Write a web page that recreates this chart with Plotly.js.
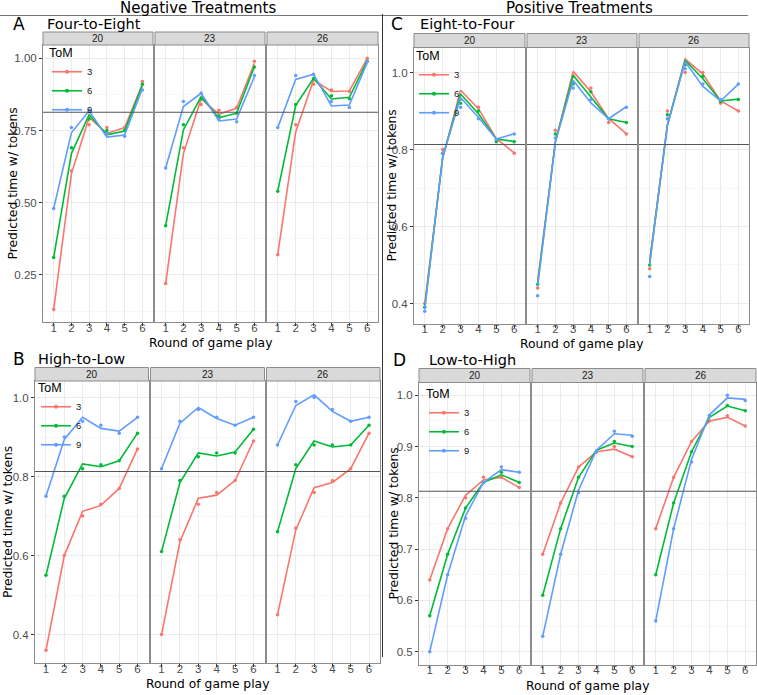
<!DOCTYPE html>
<html>
<head>
<meta charset="utf-8">
<script src="https://cdn.plot.ly/plotly-3.0.1.min.js"></script>
<style>
  html, body { margin: 0; padding: 0; background: #fff; }
  #chart { width: 757px; height: 695px; }
</style>
</head>
<body>
<div id="chart"></div>
<script>
// Shared categories
const rounds = [1, 2, 3, 4, 5, 6];
const facets = ['20', '23', '26'];
const tomLevels = ['3', '6', '9'];
const tomColors = ['#F8766D', '#00BA38', '#619CFF'];
const benchmark = 0.813;

// A: Four-to-Eight (rows = ToM 3, 6, 9)
const a20Obs = [[0.13, 0.61, 0.77, 0.76, 0.76, 0.92], [0.31, 0.69, 0.79, 0.75, 0.75, 0.91], [0.48, 0.76, 0.82, 0.74, 0.73, 0.89]];
const a20Fit = [[0.13, 0.60, 0.795, 0.74, 0.76, 0.91], [0.31, 0.67, 0.805, 0.735, 0.748, 0.908], [0.48, 0.742, 0.818, 0.727, 0.734, 0.895]];
const a23Obs = [[0.22, 0.69, 0.84, 0.82, 0.83, 0.99], [0.42, 0.77, 0.86, 0.80, 0.81, 0.97], [0.62, 0.85, 0.88, 0.79, 0.78, 0.94]];
const a23Fit = [[0.22, 0.67, 0.86, 0.807, 0.827, 0.983], [0.42, 0.752, 0.867, 0.794, 0.81, 0.971], [0.62, 0.833, 0.879, 0.783, 0.79, 0.936]];
const a26Obs = [[0.32, 0.77, 0.91, 0.89, 0.885, 1.00], [0.54, 0.84, 0.93, 0.87, 0.86, 0.99], [0.76, 0.94, 0.945, 0.85, 0.83, 0.99]];
const a26Fit = [[0.32, 0.744, 0.925, 0.885, 0.887, 1.0], [0.54, 0.836, 0.931, 0.859, 0.865, 0.991], [0.76, 0.927, 0.945, 0.835, 0.838, 0.986]];

// B: High-to-Low
const b20Obs = [[0.36, 0.60, 0.70, 0.73, 0.77, 0.87], [0.55, 0.75, 0.82, 0.83, 0.84, 0.91], [0.75, 0.90, 0.94, 0.93, 0.91, 0.95]];
const b20Fit = [[0.36, 0.60, 0.712, 0.727, 0.77, 0.87], [0.55, 0.745, 0.832, 0.825, 0.84, 0.91], [0.75, 0.894, 0.95, 0.922, 0.915, 0.95]];
const b23Obs = [[0.40, 0.64, 0.73, 0.76, 0.79, 0.89], [0.61, 0.79, 0.85, 0.86, 0.86, 0.92], [0.82, 0.94, 0.97, 0.95, 0.93, 0.95]];
const b23Fit = [[0.40, 0.635, 0.745, 0.753, 0.79, 0.89], [0.61, 0.785, 0.86, 0.852, 0.862, 0.92], [0.82, 0.935, 0.975, 0.947, 0.93, 0.95]];
const b26Obs = [[0.45, 0.67, 0.76, 0.79, 0.82, 0.91], [0.66, 0.83, 0.88, 0.88, 0.88, 0.93], [0.88, 0.99, 1.00, 0.97, 0.94, 0.95]];
const b26Fit = [[0.45, 0.665, 0.772, 0.785, 0.82, 0.91], [0.66, 0.82, 0.89, 0.875, 0.88, 0.93], [0.88, 0.98, 1.007, 0.965, 0.94, 0.95]];

// C: Eight-to-Four
const c20Obs = [[0.40, 0.80, 0.93, 0.91, 0.825, 0.79], [0.39, 0.79, 0.92, 0.90, 0.82, 0.82], [0.38, 0.79, 0.91, 0.88, 0.826, 0.84]];
const c20Fit = [[0.40, 0.776, 0.954, 0.906, 0.828, 0.791], [0.39, 0.78, 0.944, 0.893, 0.827, 0.821], [0.385, 0.78, 0.935, 0.883, 0.827, 0.841]];
const c23Obs = [[0.44, 0.85, 0.99, 0.96, 0.87, 0.84], [0.45, 0.84, 0.97, 0.95, 0.88, 0.87], [0.42, 0.83, 0.96, 0.93, 0.88, 0.91]];
const c23Fit = [[0.456, 0.82, 1.003, 0.95, 0.88, 0.841], [0.452, 0.82, 0.993, 0.938, 0.88, 0.87], [0.445, 0.82, 0.98, 0.921, 0.88, 0.911]];
const c26Obs = [[0.49, 0.90, 1.00, 1.00, 0.92, 0.90], [0.50, 0.89, 1.02, 0.99, 0.925, 0.93], [0.47, 0.88, 1.01, 0.97, 0.93, 0.97]];
const c26Fit = [[0.51, 0.863, 1.035, 0.996, 0.926, 0.90], [0.505, 0.863, 1.032, 0.984, 0.926, 0.931], [0.50, 0.863, 1.028, 0.964, 0.926, 0.97]];

// D: Low-to-High
const d20Obs = [[0.64, 0.74, 0.80, 0.84, 0.84, 0.82], [0.57, 0.69, 0.78, 0.83, 0.85, 0.83], [0.50, 0.65, 0.76, 0.83, 0.86, 0.85]];
const d20Fit = [[0.64, 0.74, 0.805, 0.835, 0.84, 0.82], [0.57, 0.69, 0.78, 0.83, 0.845, 0.83], [0.50, 0.65, 0.765, 0.83, 0.855, 0.85]];
const d23Obs = [[0.69, 0.79, 0.86, 0.89, 0.90, 0.88], [0.61, 0.74, 0.84, 0.89, 0.91, 0.90], [0.53, 0.69, 0.81, 0.89, 0.93, 0.92]];
const d23Fit = [[0.69, 0.79, 0.86, 0.89, 0.895, 0.88], [0.61, 0.74, 0.84, 0.893, 0.907, 0.90], [0.53, 0.69, 0.815, 0.893, 0.925, 0.922]];
const d26Obs = [[0.74, 0.84, 0.91, 0.95, 0.96, 0.94], [0.65, 0.79, 0.89, 0.96, 0.98, 0.97], [0.56, 0.74, 0.87, 0.96, 1.00, 0.99]];
const d26Fit = [[0.74, 0.84, 0.91, 0.95, 0.957, 0.94], [0.65, 0.79, 0.89, 0.957, 0.979, 0.97], [0.56, 0.74, 0.875, 0.962, 0.995, 0.992]];

// page geometry in pixels -> paper fractions
const W = 757, H = 695;
const px = v => v / W;
const py = v => 1 - v / H;

const panels = [
  { tag: 'A', name: 'Four-to-Eight', obs: [a20Obs, a23Obs, a26Obs], fit: [a20Fit, a23Fit, a26Fit],
    fx: [[43, 153], [155, 265], [267, 378]], top: 45, bottom: 322, strip: 32,
    yr: [0.087, 1.046], dtick: 0.25, minor: 0.125, fmt: '.2f',
    tagX: 19, tagY: 24, nameX: 45, ytX: 12, xtY: 343, leg: [47, 41] },
  { tag: 'B', name: 'High-to-Low', obs: [b20Obs, b23Obs, b26Obs], fit: [b20Fit, b23Fit, b26Fit],
    fx: [[35, 148.5], [150.5, 264.5], [266.5, 380]], top: 381, bottom: 663, strip: 367.5,
    yr: [0.328, 1.042], dtick: 0.2, minor: 0.1, fmt: '.1f',
    tagX: 19, tagY: 359, nameX: 36, ytX: 8, xtY: 684, leg: [36, 376] },
  { tag: 'C', name: 'Eight-to-Four', obs: [c20Obs, c23Obs, c26Obs], fit: [c20Fit, c23Fit, c26Fit],
    fx: [[414, 525], [527, 637], [639, 749]], top: 47.5, bottom: 323.5, strip: 33.5,
    yr: [0.348, 1.065], dtick: 0.2, minor: 0.1, fmt: '.1f',
    tagX: 397, tagY: 24, nameX: 418, ytX: 391, xtY: 344, leg: [414, 44] },
  { tag: 'D', name: 'Low-to-High', obs: [d20Obs, d23Obs, d26Obs], fit: [d20Fit, d23Fit, d26Fit],
    fx: [[419, 530], [532, 643], [645, 756]], top: 382.5, bottom: 664.5, strip: 368.5,
    yr: [0.475, 1.025], dtick: 0.1, minor: 0.05, fmt: '.1f',
    tagX: 399, tagY: 360, nameX: 427, ytX: 393, xtY: 686, leg: [424, 382] }
];

const tickFont = { family: 'Liberation Sans, Arial, sans-serif', size: 11.5, color: '#4d4d4d' };
const titleFont = { family: 'DejaVu Sans, sans-serif', size: 12.3, color: '#000' };

const traces = [];
const shapes = [];
const annotations = [];
const layout = {
  width: W, height: H,
  margin: { l: 0, r: 0, t: 0, b: 0 },
  paper_bgcolor: '#fff',
  plot_bgcolor: '#fff',
  showlegend: true,
  shapes: shapes,
  annotations: annotations
};

panels.forEach((p, pi) => {
  const legendId = pi === 0 ? 'legend' : 'legend' + (pi + 1);
  p.fx.forEach((xs, fi) => {
    const k = pi * 3 + fi + 1;
    const sfx = k === 1 ? '' : String(k);
    const xa = 'x' + sfx, ya = 'y' + sfx;

    layout['xaxis' + sfx] = {
      domain: [px(xs[0]), px(xs[1])], anchor: ya,
      range: [0.4, 6.6], tickvals: rounds, ticktext: rounds.map(String),
      showgrid: true, gridcolor: '#EBEBEB', gridwidth: 1, zeroline: false,
      showline: true, mirror: true, linecolor: '#8c8c8c', linewidth: 1,
      ticks: 'outside', ticklen: 3, tickcolor: '#333', tickfont: tickFont,
      ticklabelstandoff: -8,
      fixedrange: true
    };
    layout['yaxis' + sfx] = {
      domain: [py(p.bottom), py(p.top)], anchor: xa,
      range: p.yr, dtick: p.dtick, tick0: 0, tickformat: p.fmt,
      showgrid: true, gridcolor: '#EBEBEB', gridwidth: 1, zeroline: false,
      minor: { showgrid: true, dtick: p.minor, tick0: 0, gridcolor: '#F4F4F4', gridwidth: 0.6 },
      showline: true, mirror: true, linecolor: '#8c8c8c', linewidth: 1,
      ticks: fi === 0 ? 'outside' : '', ticklen: 3, tickcolor: '#333',
      showticklabels: fi === 0, tickfont: tickFont,
      fixedrange: true
    };

    // fitted lines then observed points
    tomLevels.forEach((t, ti) => {
      traces.push({
        type: 'scatter', mode: 'lines', x: rounds, y: p.fit[fi][ti],
        xaxis: xa, yaxis: ya, line: { color: tomColors[ti], width: 1.6 },
        showlegend: false, hoverinfo: 'skip'
      });
      traces.push({
        type: 'scatter', mode: 'markers', x: rounds, y: p.obs[fi][ti],
        xaxis: xa, yaxis: ya, marker: { color: tomColors[ti], size: 3.5 },
        showlegend: false, name: 'ToM ' + t
      });
    });

    // benchmark line
    shapes.push({
      type: 'line', xref: xa + ' domain', yref: ya, x0: 0, x1: 1, y0: benchmark, y1: benchmark,
      line: { color: '#555', width: 1.1 }
    });
    // facet strip
    shapes.push({
      type: 'rect', xref: 'paper', yref: 'paper',
      x0: px(xs[0]), x1: px(xs[1]), y0: py(p.top), y1: py(p.strip),
      fillcolor: '#D9D9D9', line: { color: '#8c8c8c', width: 1 }
    });
    annotations.push({
      xref: 'paper', yref: 'paper', x: px((xs[0] + xs[1]) / 2), y: py((p.top + p.strip) / 2),
      text: facets[fi], showarrow: false, xanchor: 'center', yanchor: 'middle',
      font: { family: 'Liberation Sans, Arial, sans-serif', size: 10, color: '#1a1a1a' }
    });
  });

  // legend (one per panel, inside first facet)
  tomLevels.forEach((t, ti) => {
    traces.push({
      type: 'scatter', mode: 'lines+markers', x: [null], y: [null],
      xaxis: 'x' + (pi === 0 ? '' : pi * 3 + 1), yaxis: 'y' + (pi === 0 ? '' : pi * 3 + 1),
      name: t, legend: legendId,
      line: { color: tomColors[ti], width: 1.6 }, marker: { color: tomColors[ti], size: 4 }
    });
  });
  layout[legendId] = {
    x: px(p.leg[0]), y: py(p.leg[1]), xanchor: 'left', yanchor: 'top',
    bgcolor: 'rgba(0,0,0,0)', borderwidth: 0,
    title: { text: 'ToM', font: { family: 'Liberation Sans, Arial, sans-serif', size: 12.5, color: '#000' } },
    font: { family: 'Liberation Sans, Arial, sans-serif', size: 9.5, color: '#1a1a1a' },
    itemwidth: 30
  };

  // panel tag and name
  annotations.push({
    xref: 'paper', yref: 'paper', x: px(p.tagX), y: py(p.tagY), text: p.tag, showarrow: false,
    xanchor: 'center', yanchor: 'middle', font: { family: 'DejaVu Sans, sans-serif', size: 17, color: '#000' }
  });
  annotations.push({
    xref: 'paper', yref: 'paper', x: px(p.nameX), y: py(p.tagY), text: p.name, showarrow: false,
    xanchor: 'left', yanchor: 'middle', font: { family: 'DejaVu Sans, sans-serif', size: 14.5, color: '#000' }
  });
  // axis titles
  annotations.push({
    xref: 'paper', yref: 'paper', x: px(p.ytX), y: py((p.top + p.bottom) / 2),
    text: 'Predicted time w/ tokens', textangle: -90, showarrow: false,
    xanchor: 'center', yanchor: 'middle', font: titleFont
  });
  annotations.push({
    xref: 'paper', yref: 'paper', x: px((p.fx[0][0] + p.fx[2][1]) / 2), y: py(p.xtY),
    text: 'Round of game play', showarrow: false,
    xanchor: 'center', yanchor: 'middle', font: titleFont
  });
});

// section headers and dividers
annotations.push({
  xref: 'paper', yref: 'paper', x: px(198), y: py(8), text: 'Negative Treatments', showarrow: false,
  xanchor: 'center', yanchor: 'middle', font: { family: 'DejaVu Sans, sans-serif', size: 15, color: '#000' }
});
annotations.push({
  xref: 'paper', yref: 'paper', x: px(579), y: py(8), text: 'Positive Treatments', showarrow: false,
  xanchor: 'center', yanchor: 'middle', font: { family: 'DejaVu Sans, sans-serif', size: 15, color: '#000' }
});
shapes.push({ type: 'line', xref: 'paper', yref: 'paper', x0: 0, x1: px(748), y0: py(15.5), y1: py(15.5), line: { color: '#777', width: 1 } });
shapes.push({ type: 'line', xref: 'paper', yref: 'paper', x0: px(382.5), x1: px(382.5), y0: py(14), y1: py(657), line: { color: '#333', width: 1 } });

Plotly.newPlot('chart', traces, layout, { staticPlot: true, displayModeBar: false });
</script>
</body>
</html>
